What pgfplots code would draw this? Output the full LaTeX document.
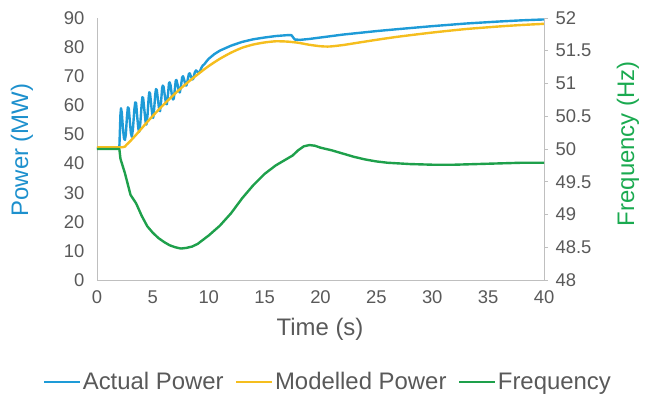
\documentclass[border=0pt]{standalone}
\usepackage{fontspec}
\setmainfont{Liberation Sans}
\usepackage{pgfplots}
\pgfplotsset{compat=1.18}
\definecolor{cblue}{RGB}{30,155,215}
\definecolor{cyellow}{RGB}{245,190,30}
\definecolor{cgreen}{RGB}{30,160,75}
\definecolor{lblue}{RGB}{29,144,205}
\definecolor{lgreen}{RGB}{26,170,80}
\definecolor{tgray}{RGB}{89,89,89}
\definecolor{agray}{RGB}{191,191,191}
\begin{document}
\begin{tikzpicture}
\pgfplotsset{
  common/.style={
    scale only axis, width=447bp, height=262bp,
    xmin=0, xmax=40,
    /pgf/number format/assume math mode=true,
    tick label style={font=\fontsize{18.5}{20}\selectfont, text=tgray},
    axis line style={draw=agray, line width=0.8bp},
    clip=false,
  }
}
\begin{axis}[common, name=a,
  ymin=0, ymax=90,
  axis x line*=bottom, axis y line*=left,
  xtick={0,5,...,40}, ytick={0,10,...,90},
  major tick length=0pt,
  xticklabel style={yshift=-7bp},
  yticklabel style={xshift=-9bp},
  xlabel={Time (s)},
  xlabel style={at={(axis description cs:0.499,-0.19)}, anchor=center, font=\fontsize{24}{26}\selectfont, text=tgray},
  ylabel={Power (MW)},
  ylabel style={at={(axis description cs:-0.168,0.496)}, anchor=center, rotate=0, font=\fontsize{24}{26}\selectfont, text=lblue},
]
\addplot[cblue, line width=2.4bp, line join=round] coordinates {
(0,45.5)(2.0,45.5)(2.04,50)(2.1,57)(2.15,59)(2.22,57.5)(2.32,52)(2.42,48.6)(2.5,48.1)(2.58,50)(2.68,56)(2.76,59.3)(2.84,59)(2.93,55)(3.03,50.5)(3.12,49.2)(3.22,52)(3.34,58.5)(3.42,61)(3.5,60.8)(3.6,56)(3.7,52)(3.78,50.9)(3.88,54)(3.99,60)(4.06,62.8)(4.13,62.5)(4.25,58)(4.35,54.2)(4.42,53.4)(4.52,56.5)(4.62,62.5)(4.68,64.5)(4.75,64)(4.87,59.5)(4.97,56)(5.03,55.7)(5.12,59)(5.22,64)(5.28,65.6)(5.35,65.2)(5.47,61.5)(5.57,58.3)(5.64,58)(5.74,61.5)(5.83,66)(5.89,66.8)(5.96,66.3)(6.08,63)(6.18,60.5)(6.25,60.4)(6.36,64)(6.44,67.6)(6.5,67.9)(6.58,67)(6.7,63.5)(6.8,62)(6.87,62.3)(6.98,66)(7.05,68.6)(7.11,68.7)(7.2,67.3)(7.32,65)(7.41,64.4)(7.5,66.2)(7.62,69.6)(7.7,70)(7.8,68.8)(7.92,66.9)(8.0,66.8)(8.1,68.5)(8.22,70.8)(8.3,71)(8.42,69.8)(8.54,68.9)(8.62,69.2)(8.75,71.3)(8.86,72)(8.96,71.6)(9.1,71.1)(9.2,71.6)(9.33,72.8)(9.45,73.6)(9.6,74.1)(9.8,75.1)(10,76)(10.5,77.6)(11,78.8)(12,80.5)(13,81.8)(14,82.7)(15,83.3)(16,83.8)(17,84.1)(17.4,84.1)(17.7,82.6)(18.2,82.5)(19,82.8)(20,83.3)(21,83.8)(22,84.3)(23,84.7)(25,85.5)(27,86.2)(30,87.2)(33,88.1)(36,88.8)(38,89.2)(40,89.5)
};
\addplot[cyellow, line width=2.4bp, smooth, tension=0.4] coordinates {
(0,45.6)(2.3,45.6)(2.6,46.3)(3,47.8)(3.5,49.9)(4,52.1)(4.5,54.3)(5,56.4)(6,60.4)(7,64.1)(8,67.5)(9,70.6)(10,73.5)(11,76)(12,78.1)(13,79.8)(14,80.9)(15,81.6)(16,82)(17,81.9)(18,81.5)(19,80.8)(20,80.3)(20.8,80.2)(22,80.7)(23,81.3)(25,82.5)(27,83.6)(30,85)(33,86.2)(36,87.1)(38,87.6)(40,88)
};
\end{axis}
\begin{axis}[common,
  ymin=48, ymax=52,
  axis x line=none, axis y line*=right,
  ytick={48,48.5,49,49.5,50,50.5,51,51.5,52},
  yticklabels={48,48.5,49,49.5,50,50.5,51,51.5,52},
  tick align=outside, major tick length=4bp,
  major tick style={draw=agray, line width=0.8bp},
  yticklabel style={xshift=4bp},
  ylabel={Frequency (Hz)},
  ylabel style={at={(axis description cs:1.188,0.52)}, anchor=center, rotate=0, font=\fontsize{24}{26}\selectfont, text=lgreen},
  legend style={at={(0.516,-0.389)}, anchor=center, draw=none, fill=none,
    legend columns=3, font=\fontsize{24}{26}\selectfont, text=tgray,
    /tikz/every even column/.append style={column sep=10bp},
    inner sep=0pt, nodes={inner sep=1.5bp}},
  legend image code/.code={\draw[#1, line width=2.4bp] (0bp,0bp) -- (36bp,0bp);},
]
\addlegendimage{cblue}
\addlegendentry{Actual Power}
\addlegendimage{cyellow}
\addlegendentry{Modelled Power}
\addplot[cgreen, line width=2.4bp, line join=round] coordinates {
(0,50)(2.0,50)(2.1,49.85)(2.5,49.63)(3.0,49.3)(3.5,49.17)(4.0,48.98)(4.5,48.82)(5,48.72)(5.5,48.64)(6,48.58)(6.5,48.53)(7,48.5)(7.5,48.48)(8,48.49)(8.5,48.51)(9,48.55)(10,48.68)(11,48.83)(12,49.02)(13,49.25)(14,49.45)(15,49.62)(16,49.75)(17,49.85)(17.5,49.9)(18,49.98)(18.5,50.04)(19,50.06)(19.5,50.05)(20,50.02)(21,49.98)(22,49.93)(23,49.88)(24,49.84)(25,49.81)(26,49.79)(27,49.78)(28,49.77)(30,49.76)(32,49.76)(34,49.77)(36,49.78)(38,49.79)(40,49.79)
};
\addlegendentry{Frequency}
\end{axis}
\pgfresetboundingbox
\path[use as bounding box] ([xshift=-97bp,yshift=-116bp]a.south west) rectangle ([xshift=101bp,yshift=18bp]a.north east);
\end{tikzpicture}
\end{document}
